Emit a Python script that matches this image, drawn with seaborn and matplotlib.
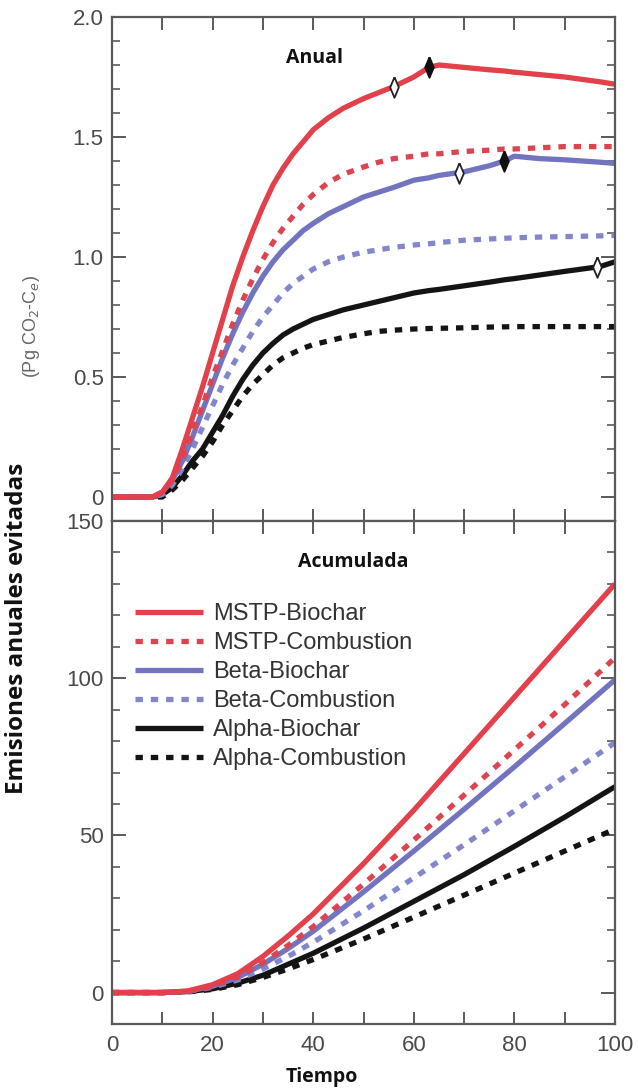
import numpy as np
import pandas as pd
import matplotlib
matplotlib.use("Agg")
import matplotlib.pyplot as plt
import seaborn as sns

# ---------------- data ----------------
years_annual = [0, 5, 8, 10, 12, 14, 16, 18, 20, 22, 24, 26, 28, 30, 32, 34, 36, 38, 40,
                43, 46, 50, 53, 56, 60, 63, 65, 70, 75, 78, 80, 85, 90, 97, 100]

mstp_bio_annual = [0, 0, 0, 0.02, 0.08, 0.2, 0.33, 0.46, 0.6, 0.74, 0.88, 1.0, 1.11,
                   1.21, 1.3, 1.37, 1.43, 1.48, 1.53, 1.58, 1.62, 1.66, 1.685, 1.71,
                   1.75, 1.79, 1.80, 1.79, 1.78, 1.775, 1.77, 1.76, 1.75, 1.73, 1.72]
mstp_comb_annual = [0, 0, 0, 0.02, 0.07, 0.16, 0.27, 0.38, 0.5, 0.61, 0.72, 0.82, 0.91,
                    0.99, 1.06, 1.12, 1.17, 1.22, 1.26, 1.31, 1.345, 1.375, 1.395, 1.41,
                    1.42, 1.43, 1.43, 1.44, 1.445, 1.45, 1.45, 1.455, 1.46, 1.46, 1.46]
beta_bio_annual = [0, 0, 0, 0.02, 0.07, 0.15, 0.25, 0.36, 0.47, 0.58, 0.68, 0.77, 0.85,
                   0.92, 0.98, 1.03, 1.07, 1.11, 1.14, 1.18, 1.21, 1.25, 1.27, 1.29,
                   1.32, 1.33, 1.34, 1.355, 1.38, 1.40, 1.42, 1.41, 1.405, 1.395, 1.39]
beta_comb_annual = [0, 0, 0, 0.01, 0.05, 0.12, 0.2, 0.29, 0.38, 0.47, 0.55, 0.62, 0.69,
                    0.75, 0.8, 0.85, 0.89, 0.92, 0.95, 0.98, 1.0, 1.02, 1.03, 1.04,
                    1.05, 1.055, 1.06, 1.07, 1.075, 1.078, 1.08, 1.083, 1.085, 1.088, 1.09]
alpha_bio_annual = [0, 0, 0, 0.01, 0.04, 0.09, 0.15, 0.2, 0.27, 0.34, 0.42, 0.49, 0.55,
                    0.6, 0.64, 0.675, 0.7, 0.72, 0.74, 0.76, 0.78, 0.8, 0.815, 0.83,
                    0.85, 0.86, 0.865, 0.88, 0.895, 0.905, 0.91, 0.925, 0.94, 0.96, 0.98]
alpha_comb_annual = [0, 0, 0, 0.0, 0.03, 0.07, 0.12, 0.17, 0.23, 0.3, 0.36, 0.42, 0.47,
                     0.51, 0.55, 0.58, 0.6, 0.62, 0.635, 0.65, 0.665, 0.68, 0.69, 0.695,
                     0.7, 0.702, 0.703, 0.705, 0.708, 0.709, 0.71, 0.71, 0.71, 0.71, 0.71]

years_cum = [0, 10, 15, 20, 25, 30, 35, 40, 50, 60, 70, 80, 90, 100]
mstp_bio_cum = [0, 0, 0.5, 2.5, 6, 11.5, 18, 25, 41, 58, 76, 94, 112, 130]
mstp_comb_cum = [0, 0, 0.4, 2, 5, 9.5, 15, 21, 34.5, 48.5, 62.8, 77.2, 91.6, 106.5]
beta_bio_cum = [0, 0, 0.4, 2, 4.8, 9, 14, 19.5, 32, 45, 58.3, 71.8, 85.6, 99.5]
beta_comb_cum = [0, 0, 0.3, 1.7, 4, 7.5, 11.5, 16, 26, 36.5, 47, 57.8, 68.6, 79.5]
alpha_bio_cum = [0, 0, 0.3, 1.2, 3, 5.5, 9, 12.5, 20.5, 29, 37.5, 46.5, 55.8, 65.5]
alpha_comb_cum = [0, 0, 0.2, 1, 2.5, 4.8, 7.5, 10.5, 17, 24, 31, 38, 45, 52]

series_names = ["MSTP-Biochar", "MSTP-Combustion", "Beta-Biochar",
                "Beta-Combustion", "Alpha-Biochar", "Alpha-Combustion"]

open_marker_x = [56, 69, 96.5]
open_marker_y = [1.71, 1.35, 0.96]
filled_marker_x = [63, 78]
filled_marker_y = [1.79, 1.40]

x_ticks = [0, 20, 40, 60, 80, 100]
top_yticks = [0, 0.5, 1.0, 1.5, 2.0]
top_yticklabels = ["0", "0.5", "1.0", "1.5", "2.0"]
bot_yticks = [0, 50, 100, 150]
bot_yticklabels = ["0", "50", "100", "150"]

# ---------------- style ----------------
sns.set_theme(style="ticks")
plt.rcParams["font.family"] = ["Liberation Sans", "DejaVu Sans"]

RED = "#e2404a"
RED_D = "#dc4450"
BLUE = "#7274c0"
BLUE_D = "#8486cc"
BLACK = "#141414"
colors = [RED, RED_D, BLUE, BLUE_D, BLACK, BLACK]
dashed = [False, True, False, True, False, True]

W, H = 638, 1089
fig = plt.figure(figsize=(W / 100, H / 100), dpi=100)
left, right = 112, 615
ax1 = fig.add_axes([left / W, (H - 521) / H, (right - left) / W, (521 - 17) / H])
ax2 = fig.add_axes([left / W, (H - 1024) / H, (right - left) / W, (1024 - 521) / H])

LW = 3.8
DASH = (1.4, 1.5)

annual = [mstp_bio_annual, mstp_comb_annual, beta_bio_annual, beta_comb_annual,
          alpha_bio_annual, alpha_comb_annual]
cum = [mstp_bio_cum, mstp_comb_cum, beta_bio_cum, beta_comb_cum,
       alpha_bio_cum, alpha_comb_cum]

order = [5, 4, 3, 2, 1, 0]
for i in order:
    df = pd.DataFrame({"t": years_annual, "v": annual[i]})
    sns.lineplot(data=df, x="t", y="v", ax=ax1, color=colors[i], linewidth=LW,
                 errorbar=None, sort=True)
    ln = ax1.lines[-1]
    ln.set_solid_capstyle("butt")
    ln.set_solid_joinstyle("round")
    if dashed[i]:
        ln.set_dashes(DASH)
        ln.set_dash_capstyle("butt")

handles = {}
for i in order:
    df = pd.DataFrame({"t": years_cum, "v": cum[i]})
    sns.lineplot(data=df, x="t", y="v", ax=ax2, color=colors[i], linewidth=LW,
                 errorbar=None, sort=True)
    ln = ax2.lines[-1]
    ln.set_solid_capstyle("butt")
    ln.set_solid_joinstyle("round")
    if dashed[i]:
        ln.set_dashes(DASH)
        ln.set_dash_capstyle("butt")
    handles[i] = ln

# diamonds
diamond = [(0, 1), (0.42, 0), (0, -1), (-0.42, 0), (0, 1)]
sns.scatterplot(x=open_marker_x, y=open_marker_y, ax=ax1, marker=diamond, s=220,
                color="white", edgecolor="#222222", linewidth=1.3, zorder=5)
sns.scatterplot(x=filled_marker_x, y=filled_marker_y, ax=ax1, marker=diamond, s=220,
                color="#111111", edgecolor="#111111", linewidth=1.3, zorder=5)

# ---------------- axes formatting ----------------
SPINE = "#5a5a5a"
TICKLAB = "#4a4a4a"
for ax in (ax1, ax2):
    ax.set_xlim(0, 100)
    ax.set_xlabel("")
    ax.set_ylabel("")
    for s in ax.spines.values():
        s.set_visible(True)
        s.set_color(SPINE)
        s.set_linewidth(1.6)
    ax.set_xticks(x_ticks)
    ax.set_xticks([10, 30, 50, 70, 90], minor=True)
    ax.tick_params(axis="x", which="both", direction="in", top=True, bottom=True,
                   length=9, width=1.4, color=SPINE)
    ax.tick_params(axis="y", which="major", direction="in", left=True, right=True,
                   length=10, width=1.4, color=SPINE, labelsize=16,
                   labelcolor=TICKLAB, pad=6)
    ax.tick_params(axis="y", which="minor", direction="in", left=True, right=True,
                   length=6, width=1.2, color=SPINE)
    ax.set_facecolor("white")
    if ax.get_legend() is not None:
        ax.get_legend().remove()

ax1.set_ylim(-0.1, 2.0)
ax1.set_yticks(top_yticks)
ax1.set_yticklabels(top_yticklabels)
ax1.set_yticks(np.arange(0, 2.0, 0.1), minor=True)
ax1.tick_params(axis="x", which="both", labelbottom=False)

ax2.set_ylim(-10, 150)
ax2.set_yticks(bot_yticks)
ax2.set_yticklabels(bot_yticklabels)
ax2.set_yticks(np.arange(0, 150, 10), minor=True)
ax2.set_xticklabels([str(v) for v in x_ticks])
ax2.tick_params(axis="x", which="major", labelsize=16, labelcolor=TICKLAB, pad=8)

# legend
leg = ax2.legend([handles[i] for i in range(6)], series_names,
                 loc="upper left", bbox_to_anchor=(135 / W, 1 - 603 / H),
                 bbox_transform=fig.transFigure, frameon=False, fontsize=17,
                 handlelength=2.9, handletextpad=0.4, labelspacing=0.3,
                 borderpad=0, borderaxespad=0)
for t in leg.get_texts():
    t.set_color("#333333")

# texts
bold = ["Open Sans", "DejaVu Sans"]
fig.text(315 / W, 1 - 58 / H, "Anual", ha="center", va="center",
         fontsize=14, fontweight="bold", family=bold, color="#111111")
fig.text(353 / W, 1 - 562 / H, "Acumulada", ha="center", va="center",
         fontsize=14, fontweight="bold", family=bold, color="#111111")
fig.text(322 / W, 1 - 1077 / H, "Tiempo", ha="center", va="center",
         fontsize=14, fontweight="bold", family=bold, color="#111111")
fig.text(17 / W, 1 - 628 / H, "Emisiones anuales evitadas", ha="center",
         va="center", rotation=90, fontsize=17.5, fontweight="bold", family=bold,
         color="#111111")
fig.text(32 / W, 1 - 326 / H, "(Pg CO$_2$-C$_e$)", ha="center", va="center",
         rotation=90, fontsize=13, color="#666666")

fig.savefig("out.png", dpi=100, facecolor="white")
